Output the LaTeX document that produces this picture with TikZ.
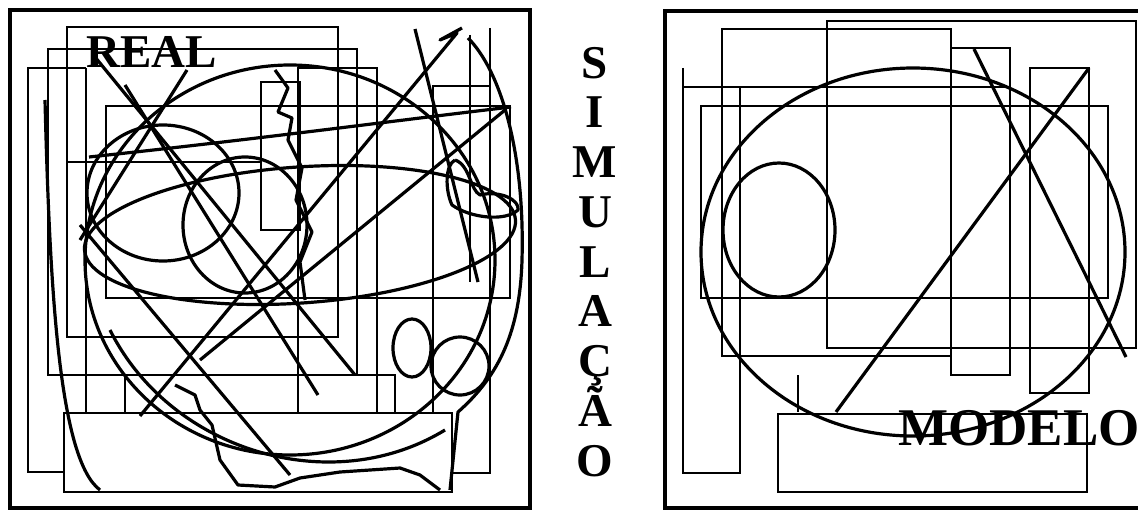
\documentclass[tikz,border=0pt]{standalone}
\usepackage{fontspec}
\setmainfont{Liberation Serif}
\begin{document}
\begin{tikzpicture}[x=1pt,y=-1pt,
  frame/.style={line width=4.8pt},
  thin/.style={line width=2.4pt},
  rough/.style={line width=2.8pt},
  curve/.style={line width=3.2pt, line join=round},
  word/.style={font=\fontsize{47}{47}\selectfont\bfseries, inner sep=0pt, anchor=base west},
  letter/.style={font=\fontsize{47}{47}\selectfont\bfseries, inner sep=0pt, anchor=base}]
\useasboundingbox (0,0) rectangle (1138,511);

% left panel: the real world
\draw[frame] (10,10) rectangle (530,508);
\draw[rough] (67,27) rectangle (338,337);
\draw[rough] (48,49) rectangle (357,375);
\draw[rough] (125,375) rectangle (395,413);
\draw[rough] (298,68) rectangle (377,435);
\draw[rough] (106,106) rectangle (510,298);
\draw[rough] (261,82) rectangle (300,230);
\draw[rough] (490,28) -- (490,473) -- (433,473);
\draw[rough] (433,490) -- (433,86) -- (490,86);
\draw[rough] (86,68) -- (28,68) -- (28,472) -- (64,472);
\draw[rough] (86,68) -- (86,490);
\draw[rough] (470,35) -- (470,282);
\draw[rough] (67,162) -- (261,162);
\draw[rough, fill=white] (64,413) rectangle (452,492);

\draw[curve] (290,260) ellipse [x radius=205, y radius=195];
\draw[curve] (163,193) ellipse [x radius=76, y radius=68];
\draw[curve] (245,225) ellipse [x radius=62, y radius=68];
\draw[curve] (300,235) ellipse [x radius=216, y radius=68, rotate=4];
\draw[curve] (412,348) ellipse [x radius=19, y radius=29];
\draw[curve] (460,366) ellipse [x radius=29, y radius=29];
\draw[curve] (110,330) .. controls (170,450) and (330,500) .. (445,430);

\draw[curve] (95,57) -- (355,375);
\draw[curve] (125,85) -- (318,395);
\draw[curve] (140,416) -- (457,33) -- (440,40) -- (462,28);
\draw[curve] (415,29) -- (478,282);
\draw[curve] (505,110) -- (200,360);
\draw[curve] (187,70) -- (80,240);
\draw[curve] (80,225) -- (290,475);
\draw[curve] (89,157) .. controls (250,140) and (400,120) .. (511,107);

\draw[curve] (45,100) .. controls (50,300) and (60,460) .. (100,490);
\draw[curve] (468,38) .. controls (500,70) and (525,150) .. (522,260)
  .. controls (520,330) and (500,375) .. (458,412) -- (450,490);
\draw[curve] (175,385) -- (195,395) -- (200,410) -- (212,425) -- (220,460)
  -- (238,485) -- (275,487) -- (300,478) -- (340,472) -- (400,468)
  -- (420,475) -- (440,490);
\draw[curve] (275,70) -- (288,88) -- (278,112) -- (292,118) -- (288,140)
  -- (302,168) -- (296,200) -- (312,232) -- (300,262) -- (305,300);
\draw[curve] (455,160) .. controls (470,165) and (470,190) .. (480,195)
  .. controls (500,190) and (520,200) .. (518,210)
  .. controls (505,222) and (470,218) .. (452,205) .. controls (445,190) and (445,165) .. (455,160);

\node[word] (real) at (86,68) {REAL};

% middle column
\foreach \ch [count=\k from 0] in {S,I,M,U,L,A,Ç,Ã,O}
  \node[letter] (sim\k) at (595,78+49.75*\k) {\ch};

% right panel: the model
\draw[frame] (1150,11) -- (665,11) -- (665,508) -- (1150,508);
\draw[thin] (827,21) rectangle (1136,348);
\draw[thin] (722,29) rectangle (951,356);
\draw[thin] (951,48) rectangle (1010,375);
\draw[thin] (1030,68) rectangle (1089,393);
\draw[thin] (683,68) -- (683,473) -- (740,473) -- (740,87);
\draw[thin] (683,87) -- (1010,87);
\draw[thin] (701,106) rectangle (1108,298);
\draw[thin] (798,375) -- (798,412);
\draw[thin] (778,414) rectangle (1087,492);
\node[word, font=\fontsize{53}{53}\selectfont\bfseries] (modelo) at (898,445) {MODELO};
\draw[curve] (913,252) ellipse [x radius=212, y radius=184];
\draw[curve] (779,230) ellipse [x radius=56, y radius=67];
\draw[curve] (974,49) -- (1126,357);
\draw[curve] (1089,68) -- (836,412);
\end{tikzpicture}
\end{document}
